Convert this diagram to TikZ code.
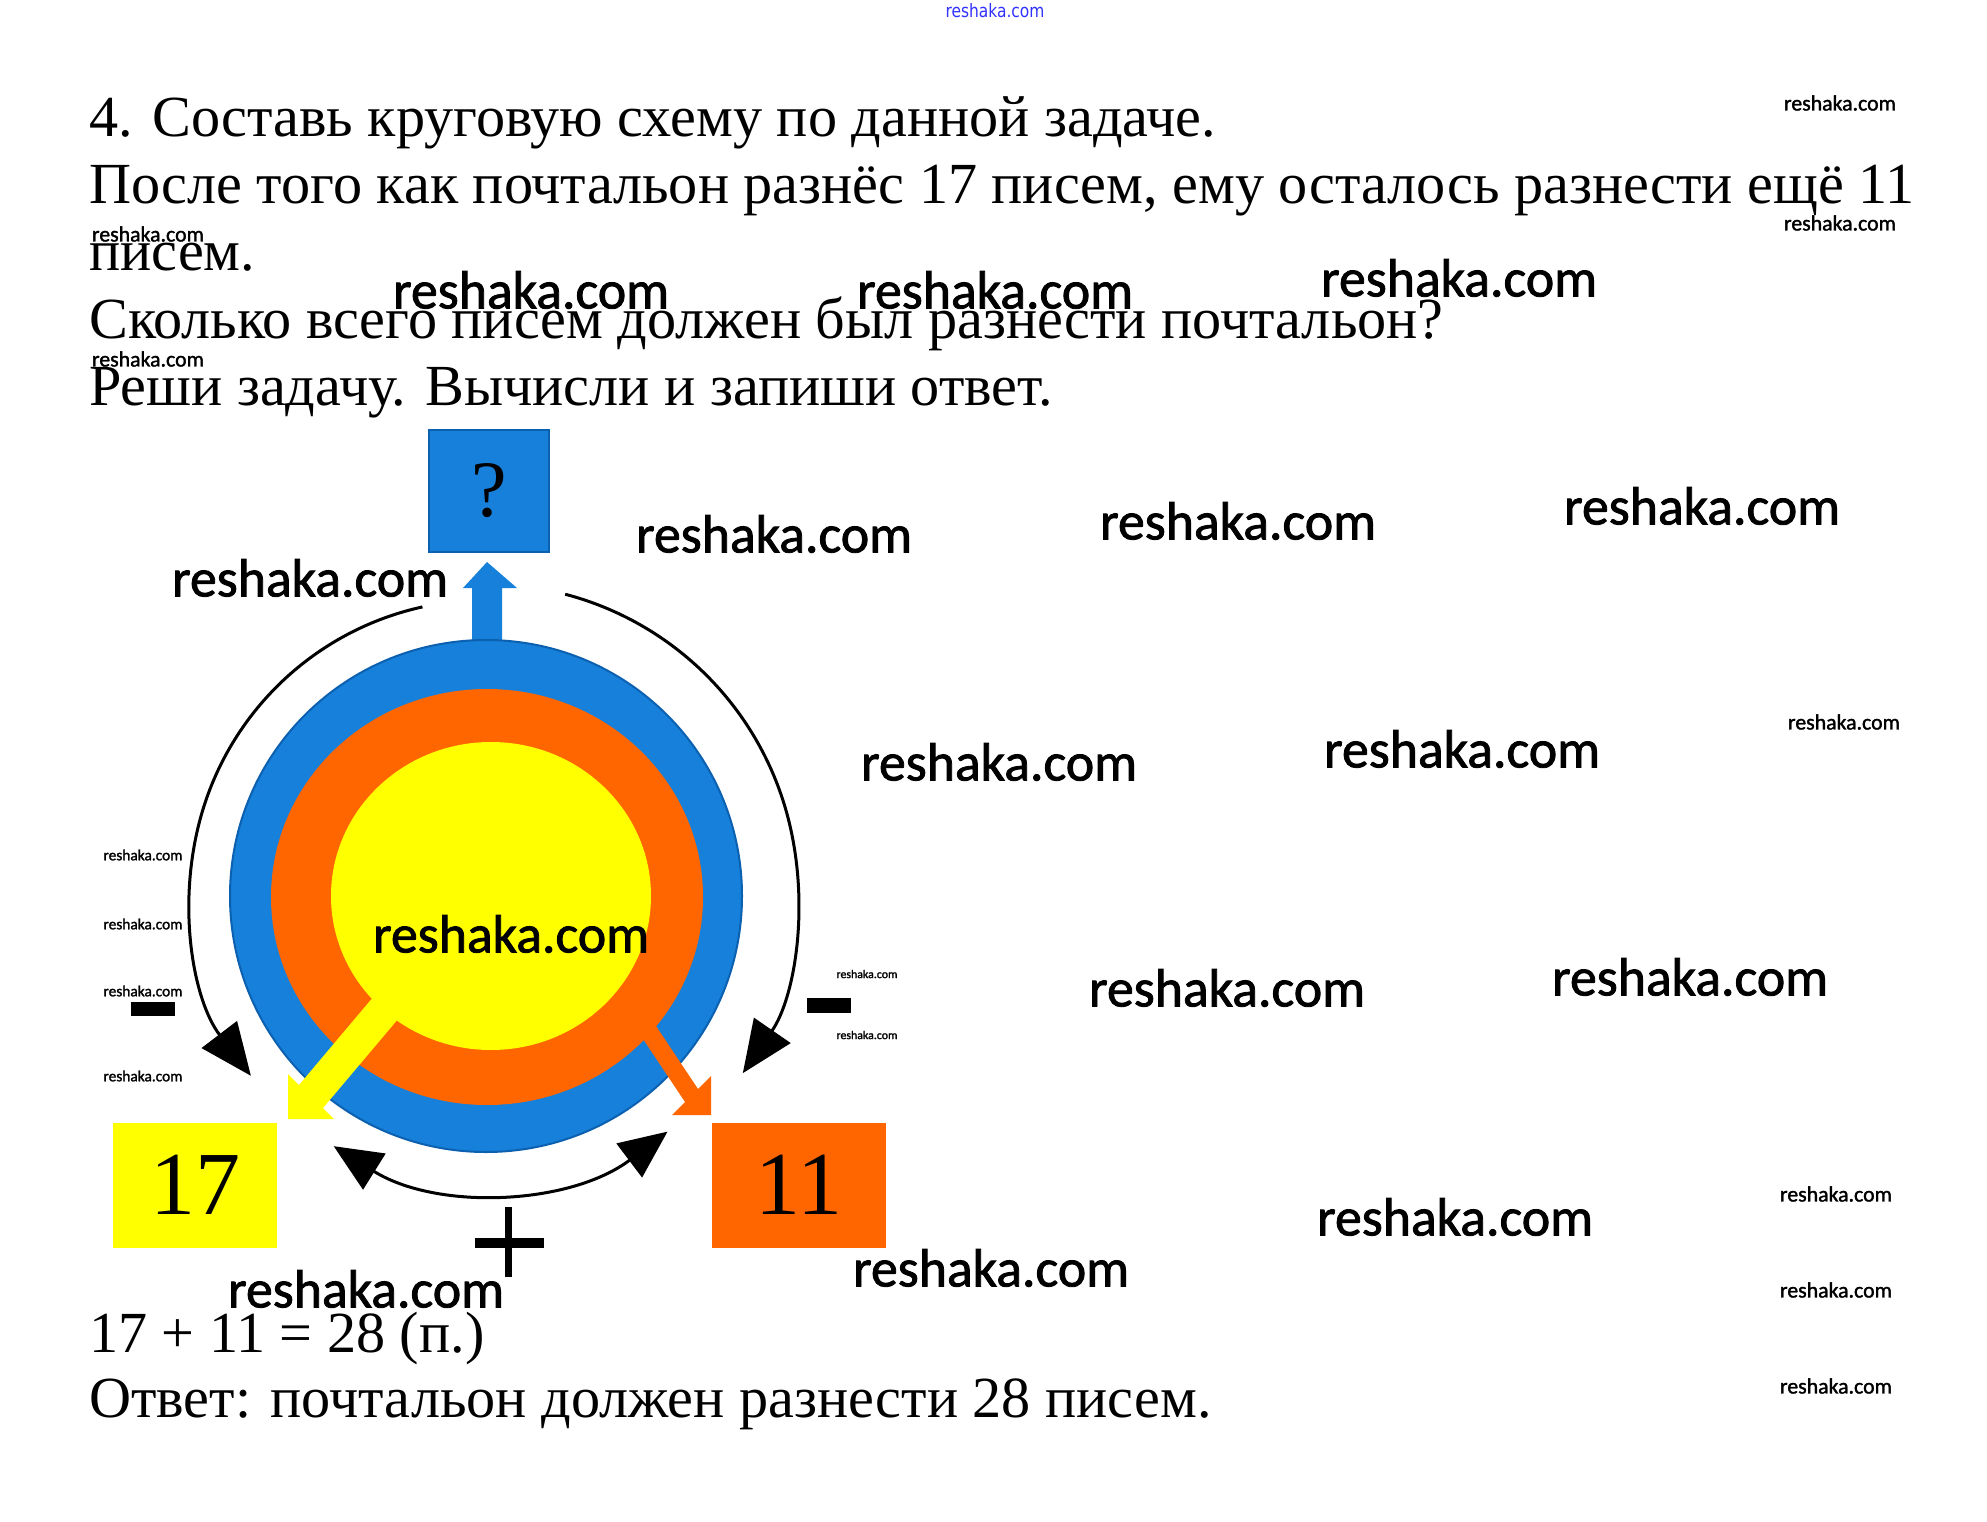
\documentclass[tikz,border=0pt]{standalone}
\usepackage{fontspec}
\setmainfont{Liberation Serif}
\newfontfamily\wmfont[FakeBold=1.5]{Carlito}
\newfontfamily\topfont{DejaVu Sans}
\usetikzlibrary{arrows.meta}
\definecolor{cblue}{RGB}{22,128,218}
\definecolor{cbluedark}{RGB}{12,96,176}
\definecolor{corange}{RGB}{255,102,0}
\definecolor{cyellow}{RGB}{255,255,0}
\newcommand\wmk[1]{\resizebox{#1}{!}{\wmfont reshaka.com}}
\begin{document}
\begin{tikzpicture}[x=1pt,y=-1pt,
  txtline/.style={anchor=base west,inner sep=0pt,font=\fontsize{58.2}{60}\selectfont},
  wm/.style={inner sep=0pt},
  arcline/.style={line width=3pt,-{Triangle[length=52pt,width=44pt]}},
  arcboth/.style={line width=3pt,{Triangle[length=48pt,width=42pt]}-{Triangle[length=48pt,width=42pt]}},
  numbox/.style={minimum width=#1,minimum height=125pt,inner sep=0pt,font=\fontsize{90}{90}\selectfont},
  bar/.style={fill=black}]
\useasboundingbox[fill=white] (0,0) rectangle (1987,1522);

% --- task text ---
\node[txtline] (t1) at (89,137) {4. Составь круговую схему по данной задаче.};
\node[txtline] (t2) at (89,204) {После того как почтальон разнёс 17 писем, ему осталось разнести ещё 11};
\node[txtline] (t3) at (89,271) {писем.};
\node[txtline] (t4) at (89,339) {Сколько всего писем должен был разнести почтальон?};
\node[txtline] (t5) at (89,405) {Реши задачу. Вычисли и запиши ответ.};

% --- circle diagram ---
\coordinate (C) at (486,896);
% blue up arrow
\fill[cblue] (472,650) -- (472,588) -- (463,588) -- (487,562) -- (517,588) -- (502,588) -- (502,650) -- cycle;
\fill[cblue,draw=cbluedark,line width=2pt] (C) circle[radius=256];
\fill[corange] (487,897) ellipse[x radius=216,y radius=208];
% orange arrow
\fill[corange] (711,1115) -- (672,1115) -- (685,1102) -- (613,994) -- (626,981) -- (698,1089) -- (711,1076) -- cycle;
\fill[cyellow] (491,896) ellipse[x radius=160,y radius=154];
% yellow arrow
\fill[cyellow] (288,1119) -- (288,1074) -- (299,1085) -- (396,970) -- (420,993) -- (323,1108) -- (334,1119) -- cycle;

\node[fill=cblue,draw=cbluedark,line width=2.5pt,minimum width=120pt,minimum height=122pt,inner sep=0pt,
  font=\fontsize{80}{80}\selectfont] (q) at (489,491) {?};
\node[numbox=164pt,fill=cyellow] (b17) at (195,1185) {17};
\node[numbox=174pt,fill=corange] (b11) at (799,1185) {11};

% thin arcs
\draw[arcline] ([shift={(257.6:296)}]C) arc[start angle=257.6,end angle=142.6,radius=296];
\draw[arcline] ([shift={(-75.3:312)}]C) arc[start angle=-75.3,end angle=34.6,radius=312];
\coordinate (C2) at (490,896);
\draw[arcboth] ([shift={(122:295)}]C2) arc[start angle=122,end angle=53,radius=295];

% signs
\fill[bar] (131,1002) rectangle (175,1016);
\fill[bar] (807,998) rectangle (851,1013);
\fill[bar] (475,1238) rectangle (544,1248);
\fill[bar] (505,1207) rectangle (512,1277);

% --- answer ---
\node[txtline] (s1) at (89,1352) {17 + 11 = 28 (п.)};
\node[txtline] (s2) at (89,1417) {Ответ: почтальон должен разнести 28 писем.};

% --- watermarks ---
\node[inner sep=0pt,text=blue!80!white] (wt) at (995,11) {\resizebox{99pt}{14pt}{\topfont reshaka.com}};
\node[wm] (w1) at (531,290) {\wmk{276pt}};
\node[wm] (w2) at (995,290) {\wmk{276pt}};
\node[wm] (w3) at (1459,278) {\wmk{276pt}};
\node[wm] (w4) at (774,534) {\wmk{276pt}};
\node[wm] (w5) at (1238,521) {\wmk{276pt}};
\node[wm] (w6) at (1702,506) {\wmk{276pt}};
\node[wm] (w7) at (310,578) {\wmk{276pt}};
\node[wm] (w8) at (999,762) {\wmk{276pt}};
\node[wm] (w9) at (1462,749) {\wmk{276pt}};
\node[wm] (w10) at (511,934) {\wmk{276pt}};
\node[wm] (w11) at (1227,988) {\wmk{276pt}};
\node[wm] (w12) at (1690,977) {\wmk{276pt}};
\node[wm] (w13) at (1455,1217) {\wmk{276pt}};
\node[wm] (w14) at (991,1268) {\wmk{276pt}};
\node[wm] (w15) at (366,1289) {\wmk{276pt}};
\node[wm] (s1w) at (1840,103) {\wmk{112pt}};
\node[wm] (s2w) at (1840,223) {\wmk{112pt}};
\node[wm] (s3w) at (148,234) {\wmk{112pt}};
\node[wm] (s4w) at (148,359) {\wmk{112pt}};
\node[wm] (s5w) at (1844,722) {\wmk{112pt}};
\node[wm] (s6w) at (1836,1194) {\wmk{112pt}};
\node[wm] (s7w) at (1836,1290) {\wmk{112pt}};
\node[wm] (s8w) at (1836,1386) {\wmk{112pt}};
\node[wm] (x1) at (143,855) {\wmk{79pt}};
\node[wm] (x2) at (143,924) {\wmk{79pt}};
\node[wm] (x3) at (143,991) {\wmk{79pt}};
\node[wm] (x4) at (143,1076) {\wmk{79pt}};
\node[wm] (y1) at (867,974) {\wmk{61pt}};
\node[wm] (y2) at (867,1035) {\wmk{61pt}};
\end{tikzpicture}
\end{document}
